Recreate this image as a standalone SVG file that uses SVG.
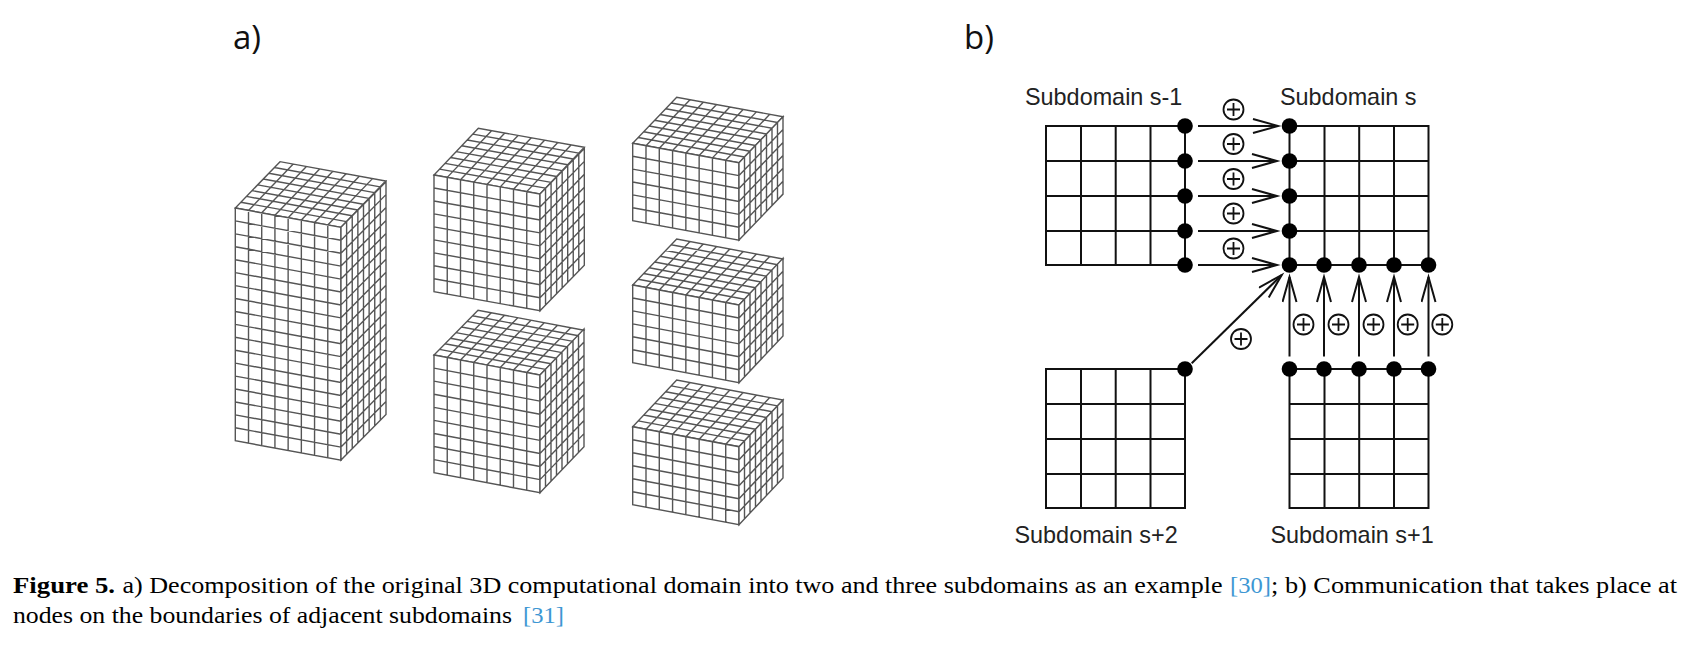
<svg xmlns="http://www.w3.org/2000/svg" width="1688" height="647" viewBox="0 0 1688 647">
<style>
.c use{fill:#fff;stroke:#555;stroke-width:1.4}
.grid{fill:none;stroke:#111;stroke-width:2}
.dot{fill:#000}
.lab{font-family:"Liberation Sans",Arial,sans-serif;font-size:23.4px;fill:#222}
.arr{fill:none;stroke:#111;stroke-width:2;marker-end:url(#open)}
.plus{fill:none;stroke:#111;stroke-width:1.8}
.ttl{font-family:"Open Sans",sans-serif;font-size:33px;fill:#111}
.cap{font-family:"Liberation Serif",serif;font-size:24px;fill:#000}
.ref{fill:#3d97d3}
</style>
<defs>
<marker id="open" markerUnits="userSpaceOnUse" markerWidth="30" markerHeight="20" refX="26" refY="8" orient="auto" viewBox="0 0 30 20"><path d="M1 1L26 8L1 15" fill="none" stroke="#111" stroke-width="2"/></marker>
<path id="g8" vector-effect="non-scaling-stroke" d="M0 0H8V8H0ZM1 0V8M2 0V8M3 0V8M4 0V8M5 0V8M6 0V8M7 0V8M0 1H8M0 2H8M0 3H8M0 4H8M0 5H8M0 6H8M0 7H8"/>
<path id="g18" vector-effect="non-scaling-stroke" d="M0 0H8V18H0ZM1 0V18M2 0V18M3 0V18M4 0V18M5 0V18M6 0V18M7 0V18M0 1H8M0 2H8M0 3H8M0 4H8M0 5H8M0 6H8M0 7H8M0 8H8M0 9H8M0 10H8M0 11H8M0 12H8M0 13H8M0 14H8M0 15H8M0 16H8M0 17H8"/>
<path id="g9" vector-effect="non-scaling-stroke" d="M0 0H8V9H0ZM1 0V9M2 0V9M3 0V9M4 0V9M5 0V9M6 0V9M7 0V9M0 1H8M0 2H8M0 3H8M0 4H8M0 5H8M0 6H8M0 7H8M0 8H8"/>
<path id="g6" vector-effect="non-scaling-stroke" d="M0 0H8V6H0ZM1 0V6M2 0V6M3 0V6M4 0V6M5 0V6M6 0V6M7 0V6M0 1H8M0 2H8M0 3H8M0 4H8M0 5H8"/>
<g id="sq" class="grid"><path d="M0 0H139V139H0ZM35 0V139M69.7 0V139M104.5 0V139M0 35H139M0 70H139M0 105H139"/></g>
<g id="oplus" class="plus"><circle r="10"/><path d="M-6.500 0H6.500M0 -6.500V6.500"/></g>
</defs>
<text class="ttl" x="233" y="49">a)</text>
<text class="ttl" x="964" y="49">b)</text>

<g id="box-1" class="c">
<use href="#g8" transform="matrix(13.21 2.42 5.59 -5.79 235.3 208)"/>
<use href="#g18" transform="matrix(13.21 2.42 0 12.93 235.3 208)"/>
<use href="#g18" transform="matrix(5.625 -5.7 0 12.93 341 227.3)"/>
</g>
<g id="box-2" class="c">
<use href="#g8" transform="matrix(13.25 2.375 5.54 -5.84 434 175)"/>
<use href="#g9" transform="matrix(13.25 2.375 0 12.97 434 175)"/>
<use href="#g9" transform="matrix(5.54 -5.7 0 12.97 540 194)"/>
</g>
<g id="box-3" class="c">
<use href="#g8" transform="matrix(13.25 2.5 5.5 -5.6 434 355)"/>
<use href="#g9" transform="matrix(13.25 2.5 0 13.08 434 355)"/>
<use href="#g9" transform="matrix(5.5 -5.75 0 13.08 540 375)"/>
</g>
<g id="box-4" class="c">
<use href="#g8" transform="matrix(13.29 2.43 5.5 -5.75 632.7 143.3)"/>
<use href="#g6" transform="matrix(13.29 2.43 0 12.9 632.7 143.3)"/>
<use href="#g6" transform="matrix(5.5 -5.75 0 12.9 739 162.7)"/>
</g>
<g id="box-5" class="c">
<use href="#g8" transform="matrix(13.29 2.5 5.5 -5.75 632.7 285)"/>
<use href="#g6" transform="matrix(13.29 2.5 0 12.95 632.7 285)"/>
<use href="#g6" transform="matrix(5.5 -5.85 0 12.95 739 305)"/>
</g>
<g id="box-6" class="c">
<use href="#g8" transform="matrix(13.29 2.5 5.5 -5.83 632.7 426.7)"/>
<use href="#g6" transform="matrix(13.29 2.5 0 13 632.7 426.7)"/>
<use href="#g6" transform="matrix(5.5 -5.85 0 13 739 446.7)"/>
</g>

<g id="subdomain-s-minus-1">
<use href="#sq" x="1046" y="126"/>
<text class="lab" x="1025" y="105">Subdomain s-1</text>
<g class="dot"><circle cx="1185" cy="126" r="7.8"/><circle cx="1185" cy="161" r="7.8"/><circle cx="1185" cy="196" r="7.8"/><circle cx="1185" cy="231" r="7.8"/><circle cx="1185" cy="265" r="7.8"/></g>
</g>
<g id="subdomain-s">
<use href="#sq" x="1289.5" y="126"/>
<text class="lab" x="1280" y="105">Subdomain s</text>
<g class="dot"><circle cx="1289.5" cy="126" r="7.8"/><circle cx="1289.5" cy="161" r="7.8"/><circle cx="1289.5" cy="196" r="7.8"/><circle cx="1289.5" cy="231" r="7.8"/><circle cx="1289.5" cy="265" r="7.8"/><circle cx="1324" cy="265" r="7.8"/><circle cx="1359" cy="265" r="7.8"/><circle cx="1394" cy="265" r="7.8"/><circle cx="1428.5" cy="265" r="7.8"/></g>
</g>
<g id="subdomain-s-plus-2">
<use href="#sq" x="1046" y="369"/>
<text class="lab" x="1014.500" y="543">Subdomain s+2</text>
<circle class="dot" cx="1185" cy="369" r="7.8"/>
</g>
<g id="subdomain-s-plus-1">
<use href="#sq" x="1289.5" y="369"/>
<text class="lab" x="1270.500" y="543">Subdomain s+1</text>
<g class="dot"><circle cx="1289.5" cy="369" r="7.8"/><circle cx="1324" cy="369" r="7.8"/><circle cx="1359" cy="369" r="7.8"/><circle cx="1394" cy="369" r="7.8"/><circle cx="1428.5" cy="369" r="7.8"/></g>
</g>

<g id="connectors">
<path class="arr" d="M1198 126H1278"/>
<path class="arr" d="M1198 161H1277"/>
<path class="arr" d="M1198 196H1277"/>
<path class="arr" d="M1198 231H1277"/>
<path class="arr" d="M1198 265H1277"/>
<path class="arr" d="M1289.5 356.500V277"/>
<path class="arr" d="M1324 356.500V277"/>
<path class="arr" d="M1359 356.500V277"/>
<path class="arr" d="M1394 356.500V277"/>
<path class="arr" d="M1428.500 356.500V277"/>
<path class="arr" d="M1191.700 363.300L1281.700 275"/>
</g>
<g id="operators">
<use href="#oplus" x="1233.500" y="109.500"/>
<use href="#oplus" x="1233.500" y="144"/>
<use href="#oplus" x="1233.500" y="179"/>
<use href="#oplus" x="1233.500" y="213.500"/>
<use href="#oplus" x="1233.500" y="248.500"/>
<use href="#oplus" x="1303.500" y="324.500"/>
<use href="#oplus" x="1338.500" y="324.500"/>
<use href="#oplus" x="1373.500" y="324.500"/>
<use href="#oplus" x="1407.700" y="324.500"/>
<use href="#oplus" x="1442.300" y="324.500"/>
<use href="#oplus" x="1241" y="339"/>
</g>

<g id="caption" class="cap">
<text x="13" y="593" font-weight="bold" textLength="102" lengthAdjust="spacingAndGlyphs">Figure 5.</text>
<text x="122.500" y="593" textLength="1100" lengthAdjust="spacingAndGlyphs">a) Decomposition of the original 3D computational domain into two and three subdomains as an example</text>
<text class="ref" x="1230" y="593" textLength="41" lengthAdjust="spacingAndGlyphs">[30]</text>
<text x="1271" y="593" textLength="406" lengthAdjust="spacingAndGlyphs">; b) Communication that takes place at</text>
<text x="13" y="623" textLength="499" lengthAdjust="spacingAndGlyphs">nodes on the boundaries of adjacent subdomains</text>
<text class="ref" x="523" y="623" textLength="41" lengthAdjust="spacingAndGlyphs">[31]</text>
</g>
</svg>
